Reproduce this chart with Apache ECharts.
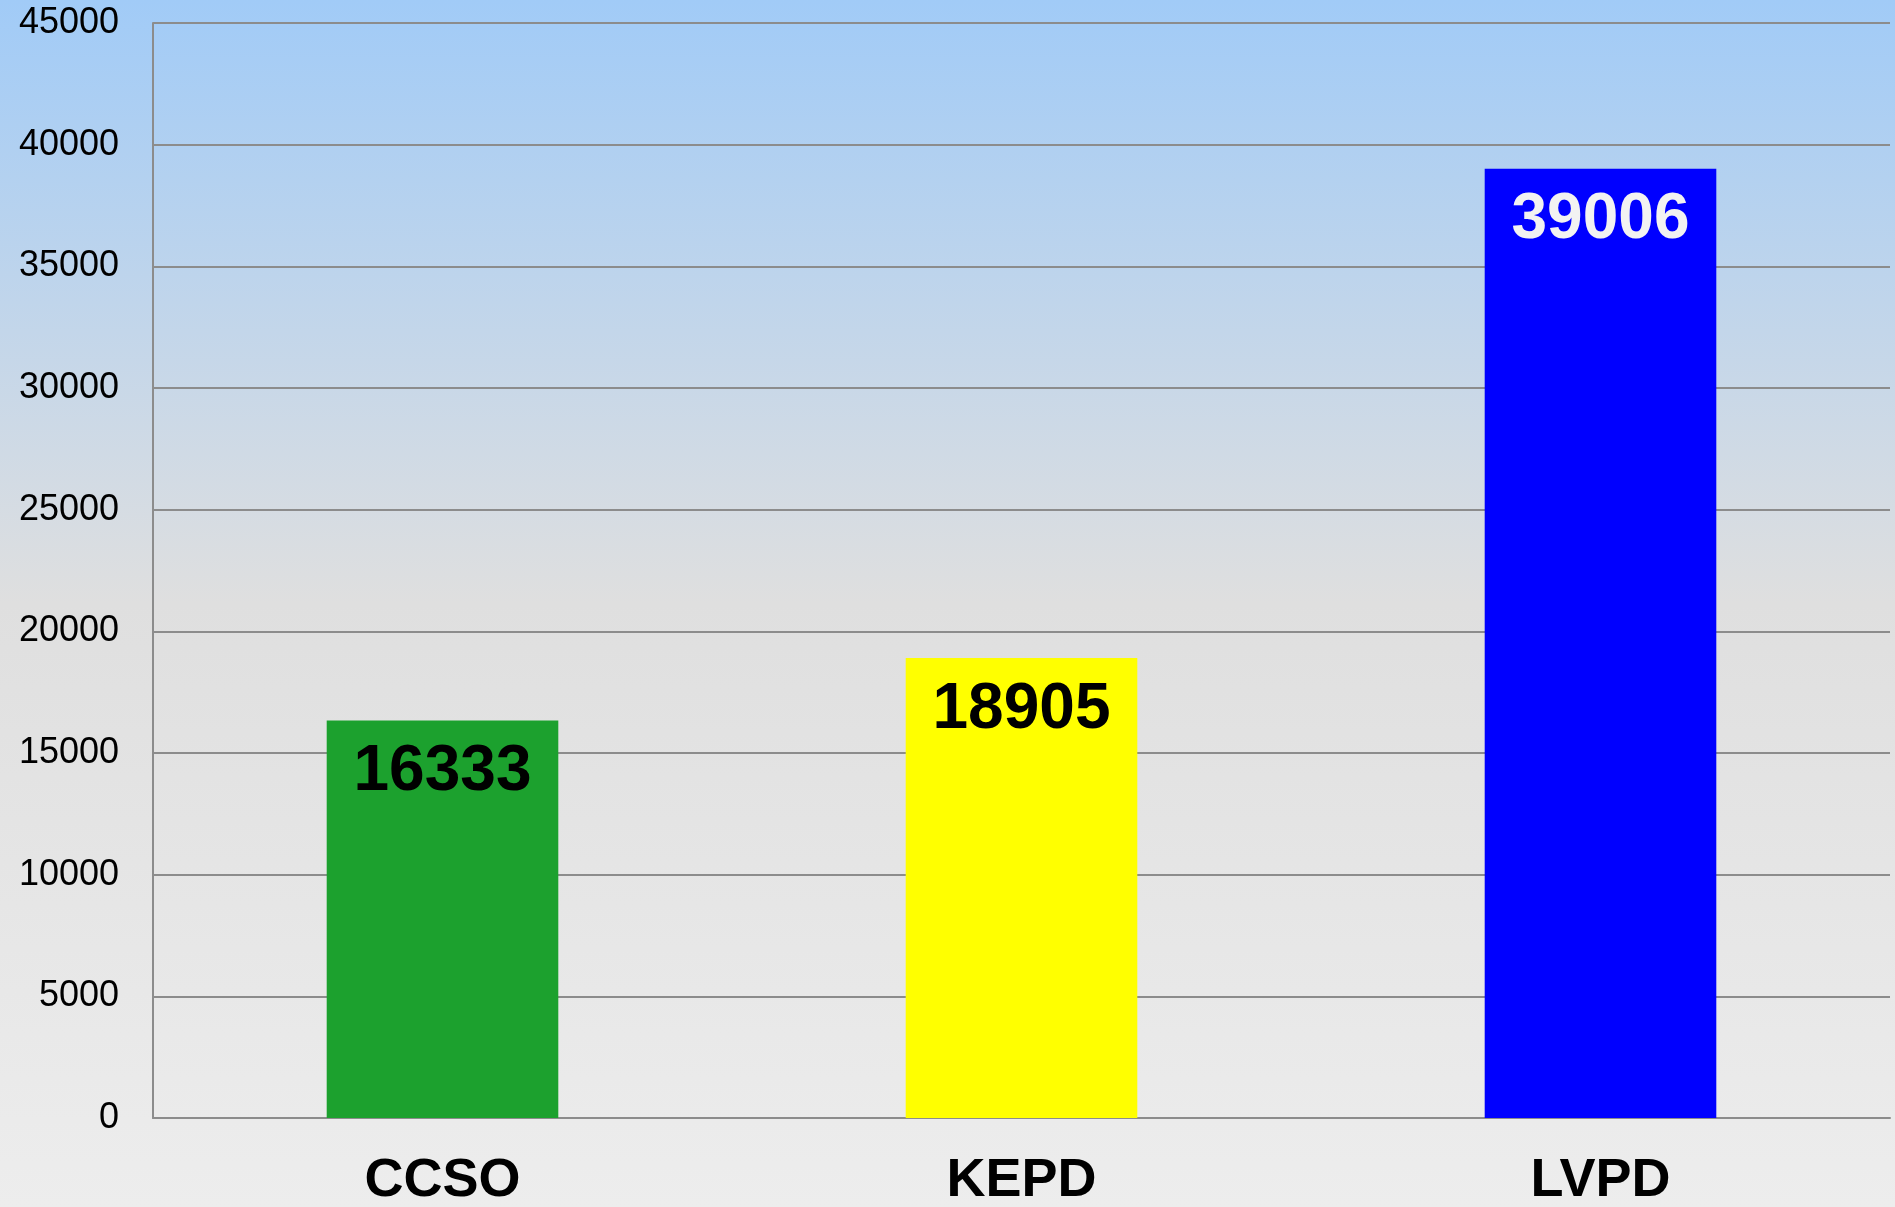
<!DOCTYPE html>
<html>
<head>
<meta charset="utf-8">
<script src="https://cdn.jsdelivr.net/npm/echarts@6/dist/echarts.min.js"></script>
<style>
  html, body { margin: 0; padding: 0; }
  #chart { width: 1895px; height: 1207px; }
</style>
</head>
<body>
<div id="chart"></div>
<script>
var categories = ['CCSO', 'KEPD', 'LVPD']
var values = [16333, 18905, 39006]
var barColors = ['#1ca12e', '#ffff00', '#0000ff']
var labelColors = ['#000000', '#000000', '#f2f2f2']

var chart = echarts.init(document.getElementById('chart'))

var data = []
for (var i = 0; i < values.length; i++) {
  data.push({
    value: values[i],
    itemStyle: { color: barColors[i] },
    label: { color: labelColors[i] }
  })
}

chart.setOption({
  backgroundColor: {
    type: 'linear', x: 0, y: 0, x2: 0, y2: 1,
    colorStops: [
      { offset: 0, color: '#a1cbf7' },
      { offset: 0.5, color: '#dfdfdf' },
      { offset: 1, color: '#ededed' }
    ]
  },
  grid: {
    left: 153,
    right: 5,
    top: 23,
    bottom: 89,
    containLabel: false,
    outerBoundsMode: 'none'
  },
  xAxis: {
    type: 'category',
    data: categories,
    axisLine: { lineStyle: { color: '#8c8c8c', width: 2 } },
    axisTick: { show: false },
    axisLabel: {
      color: '#000',
      fontFamily: 'Liberation Sans, Arial, sans-serif',
      fontWeight: 'bold',
      fontSize: 54,
      margin: 36
    }
  },
  yAxis: {
    type: 'value',
    min: 0,
    max: 45000,
    interval: 5000,
    axisLine: { show: true, lineStyle: { color: '#8c8c8c', width: 2 } },
    axisTick: { show: false },
    splitLine: { lineStyle: { color: '#8c8c8c', width: 2 } },
    axisLabel: {
      color: '#000',
      fontFamily: 'Liberation Sans, Arial, sans-serif',
      fontSize: 36,
      margin: 34,
      formatter: function (v) { return String(v) }
    }
  },
  series: [{
    type: 'bar',
    barWidth: '40%',
    data: data,
    label: {
      show: true,
      position: 'insideTop',
      distance: 20,
      fontFamily: 'Liberation Sans, Arial, sans-serif',
      fontWeight: 'bold',
      fontSize: 64
    }
  }]
})
</script>
</body>
</html>
